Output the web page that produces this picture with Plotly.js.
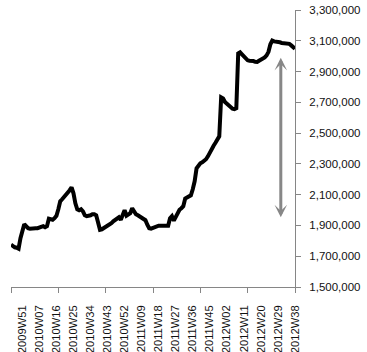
<!DOCTYPE html>
<html><head><meta charset="utf-8">
<script src="https://cdn.plot.ly/plotly-3.0.1.min.js"></script>
<style>html,body{margin:0;padding:0;background:#fff}#chart{width:367px;height:352px}</style>
</head><body><div id="chart"></div>
<script>
// Weekly series, 2009W45 .. 2012W38 (151 weeks)
const startYear = 2009, startWeek = 45;
const weeksInYear = {2009: 53, 2010: 52, 2011: 52, 2012: 52};
const values = [
 1775000,1765000,1758000,1755000,1749000,1817000,1862000,1908000,1895000,1882000,
 1879000,1882000,1879000,1882000,1882000,1885000,1888000,1895000,1888000,1895000,
 1944000,1940000,1937000,1947000,1963000,2005000,2057000,2070000,2083000,2096000,
 2116000,2129000,2148000,2109000,2044000,2005000,1999000,2005000,1992000,1966000,
 1960000,1960000,1966000,1973000,1973000,1966000,1921000,1872000,1875000,1882000,
 1888000,1895000,1905000,1914000,1927000,1938000,1947000,1953000,1937000,1966000,
 1999000,1963000,1970000,1979000,2012000,1992000,1973000,1966000,1957000,1953000,
 1944000,1934000,1905000,1882000,1879000,1885000,1888000,1895000,1898000,1898000,
 1898000,1898000,1898000,1898000,1947000,1960000,1931000,1960000,1986000,2002000,
 2012000,2025000,2075000,2080000,2086000,2096000,2135000,2187000,2271000,2291000,
 2304000,2310000,2320000,2330000,2349000,2375000,2399000,2418000,2437000,2457000,
 2479000,2733000,2726000,2702000,2690000,2677000,2668000,2658000,2655000,2661000,
 3018000,3025000,3012000,2999000,2983000,2973000,2970000,2970000,2968000,2963000,
 2962000,2970000,2976000,2983000,2992000,3005000,3028000,3077000,3101000,3096000,
 3096000,3093000,3090000,3086000,3086000,3086000,3083000,3080000,3070000,3061000,
 3048000
];
const tickLabels = ['2009W51','2010W07','2010W16','2010W25','2010W34','2010W43','2010W52',
 '2011W09','2011W18','2011W27','2011W36','2011W45','2012W02','2012W11','2012W20','2012W29','2012W38'];
const tickMarkWeeks = ['2009W45','2010W17','2010W42','2011W15','2011W40','2012W13','2012W38'];
const yTicks = [1500000,1700000,1900000,2100000,2300000,2500000,2700000,2900000,3100000,3300000];
const arrowWeekPos = 142.5;      // between 2012W27 and 2012W28
const arrowTop = 2989000, arrowBottom = 1943500;

// week names for each point
const weeks = [];
let yr = startYear, wk = startWeek;
for (let i = 0; i < values.length; i++) {
  weeks.push(yr + 'W' + String(wk).padStart(2, '0'));
  wk++; if (wk > weeksInYear[yr]) { wk = 1; yr++; }
}
const xIdx = weeks.map((w, i) => i);
const labelPos = tickLabels.map(l => weeks.indexOf(l));
const markPos = tickMarkWeeks.map(l => weeks.indexOf(l));

const data = [
  {x: xIdx, y: values, text: weeks, type: 'scatter', mode: 'lines',
   line: {color: '#000', width: 4}, hoverinfo: 'text+y', showlegend: false},
  {x: [], y: [], xaxis: 'x2', yaxis: 'y', type: 'scatter', mode: 'lines', showlegend: false}
];
const layout = {
  width: 367, height: 352,
  margin: {l: 11, r: 72, t: 10, b: 65},
  paper_bgcolor: '#fff', plot_bgcolor: '#fff',
  font: {family: 'Liberation Sans', size: 11, color: '#000'},
  showlegend: false,
  xaxis: {
    type: 'linear', range: [0, values.length - 1],
    tickmode: 'array', tickvals: markPos, showticklabels: false,
    ticks: 'outside', ticklen: 5, tickwidth: 1, tickcolor: '#868686',
    showline: true, linecolor: '#868686', linewidth: 1,
    showgrid: false, zeroline: false, fixedrange: true
  },
  xaxis2: {
    type: 'linear', overlaying: 'x', anchor: 'y', side: 'bottom',
    range: [0, values.length - 1],
    tickmode: 'array', tickvals: labelPos, ticktext: tickLabels,
    tickangle: -90, ticks: '', ticklabelstandoff: 15,
    tickfont: {family: 'Liberation Sans', size: 11.2, color: '#111'},
    showline: false, showgrid: false, zeroline: false
  },
  yaxis: {
    side: 'right', range: [1500000, 3300000],
    tickmode: 'array', tickvals: yTicks, tickformat: ',d',
    ticks: 'outside', ticklen: 5, tickwidth: 1, tickcolor: '#868686',
    showline: true, linecolor: '#868686', linewidth: 1,
    showgrid: false, zeroline: false, ticklabelstandoff: 6,
    tickfont: {family: 'Liberation Sans', size: 11.5, color: '#111'}
  },
  annotations: [{
    x: arrowWeekPos, y: arrowTop, xref: 'x', yref: 'y',
    ax: arrowWeekPos, ay: arrowBottom, axref: 'x', ayref: 'y',
    text: '', showarrow: true, arrowside: 'end+start',
    arrowhead: 3, startarrowhead: 3, arrowsize: 0.7, startarrowsize: 0.7,
    arrowwidth: 3, arrowcolor: '#878787', standoff: 0, startstandoff: 0
  }]
};
Plotly.newPlot('chart', data, layout, {displayModeBar: false, staticPlot: true});
</script></body></html>
